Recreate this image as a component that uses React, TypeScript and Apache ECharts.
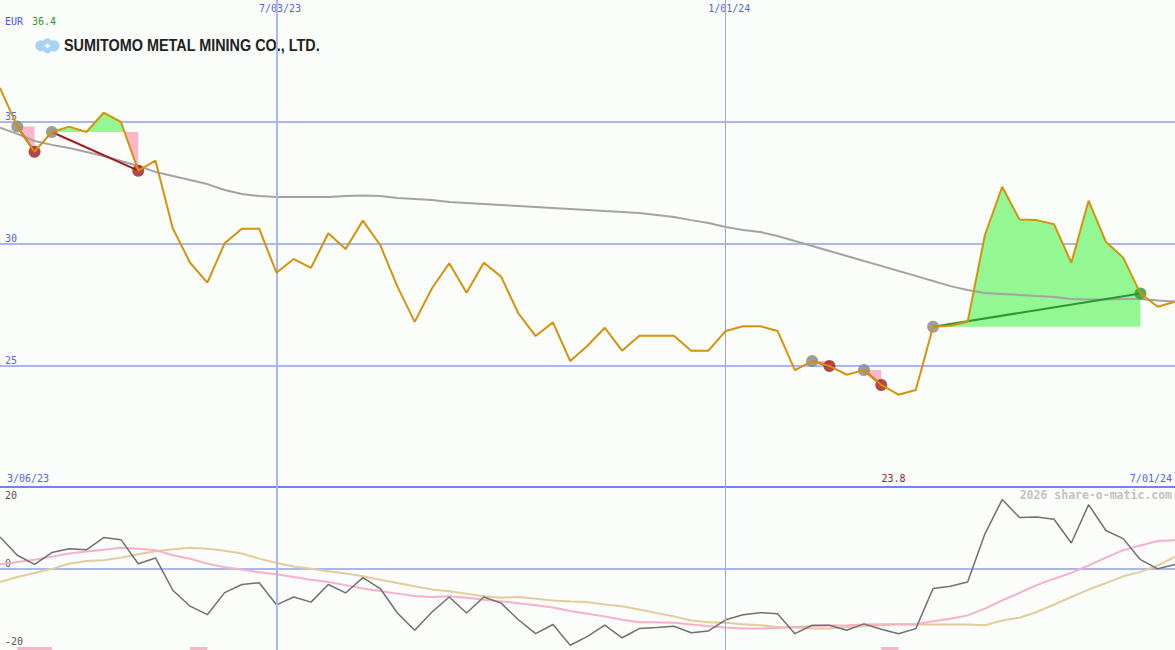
import React, { useEffect, useRef } from "react";
import * as echarts from "echarts";

// ---------- data ----------
const currency = "EUR";
const company = "SUMITOMO METAL MINING CO., LTD.";
const watermark = "2026 share-o-matic.com";

// x axis = week index (0 .. 68)
const weekMax = 68;
const topTickWeeks = [16, 42];
const topTickLabels = ["7/03/23", "1/01/24"];
const edgeTickWeeks = [0, 68];
const edgeTickLabels = ["3/06/23", "7/01/24"];

const price = [
  36.39, 34.8, 33.77, 34.58, 34.8, 34.58, 35.37, 34.99, 32.99, 33.4,
  30.62, 29.21, 28.39, 30.01, 30.61, 30.61, 28.8, 29.36, 29.0, 30.42,
  29.77, 30.94, 29.94, 28.23, 26.78, 28.16, 29.19, 27.98, 29.21, 28.64,
  27.13, 26.2, 26.76, 25.17, 25.8, 26.54, 25.6, 26.21, 26.21, 26.21,
  25.6, 25.6, 26.41, 26.6, 26.6, 26.41, 24.8, 25.17, 24.97, 24.61,
  24.8, 24.19, 23.79, 23.98, 26.58, 26.62, 26.79, 30.35, 32.33, 30.99,
  30.96, 30.79, 29.21, 31.76, 30.07, 29.42, 27.95, 27.4, 27.61,
];

const movingAvg = [
  34.76, 34.5, 34.21, 34.05, 33.92, 33.76, 33.59, 33.39, 33.18, 32.94,
  32.77, 32.61, 32.44, 32.2, 32.03, 31.95, 31.91, 31.91, 31.91, 31.91,
  31.95, 31.97, 31.95, 31.87, 31.83, 31.79, 31.7, 31.66, 31.62, 31.58,
  31.54, 31.5, 31.46, 31.42, 31.38, 31.33, 31.29, 31.25, 31.17, 31.09,
  30.96, 30.84, 30.68, 30.55, 30.47, 30.31, 30.1, 29.9, 29.69, 29.49,
  29.28, 29.08, 28.87, 28.67, 28.46, 28.25, 28.09, 27.97, 27.93, 27.89,
  27.84, 27.8, 27.72, 27.7, 27.7, 27.72, 27.72, 27.66, 27.62,
];

const osc = [
  9.3, 3.9, 1.2, 4.7, 5.8, 5.5, 9.1, 8.5, 1.4, 3.1,
  -6.4, -11.1, -13.6, -7.1, -4.7, -4.2, -10.7, -8.4, -9.9, -4.7,
  -7.2, -2.7, -5.9, -13.1, -18.2, -12.8, -8.4, -13.1, -8.4, -10.2,
  -15.1, -19.2, -16.5, -22.6, -20.0, -16.7, -20.4, -17.7, -17.4, -17.0,
  -18.9, -18.4, -15.1, -13.6, -13.0, -13.3, -19.2, -16.7, -16.7, -18.2,
  -16.3, -17.9, -19.2, -17.7, -5.9, -5.2, -4.0, 10.2, 20.3, 15.0,
  15.2, 14.5, 7.5, 18.8, 11.2, 8.8, 2.6, -0.1, 1.2,
];

const oscSignal = [
  1.2, 1.9, 2.6, 3.5, 4.4, 5.0, 5.5, 6.1, 5.8, 5.4,
  3.9, 2.9, 1.4, 0.4, -0.3, -1.1, -1.7, -2.5, -3.3, -4.0,
  -4.9, -5.9, -6.6, -7.4, -8.1, -8.4, -8.2, -8.6, -9.2, -9.7,
  -10.2, -10.8, -11.5, -12.5, -13.3, -14.1, -15.1, -15.8, -15.8, -16.0,
  -16.5, -17.0, -17.4, -17.7, -17.7, -17.5, -17.2, -17.0, -16.8, -16.7,
  -16.5, -16.4, -16.4, -16.4, -15.5, -14.8, -13.8, -11.8, -9.4, -7.2,
  -4.9, -3.0, -1.3, 0.9, 3.2, 5.4, 6.8, 8.1, 8.3,
];

const oscSlow = [
  -4.0, -2.5, -1.3, -0.1, 1.4, 2.2, 2.4, 3.2, 4.2, 5.1,
  5.7, 6.1, 5.8, 5.2, 4.4, 2.9, 1.6, 0.6, -0.1, -0.8,
  -1.5, -2.3, -3.3, -4.3, -5.2, -6.2, -6.7, -7.4, -8.2, -8.6,
  -8.4, -8.9, -9.4, -9.7, -9.9, -10.6, -11.1, -12.1, -13.1, -14.1,
  -15.3, -15.8, -16.0, -16.4, -16.7, -17.2, -17.4, -17.7, -17.7, -17.2,
  -17.0, -16.7, -16.5, -16.5, -16.5, -16.5, -16.5, -16.7, -15.3, -14.5,
  -12.8, -10.6, -8.4, -6.2, -4.3, -2.3, -1.0, 0.9, 3.4,
];

// trades: [entry week, exit week]
const trades = [
  [1, 2],
  [3, 8],
  [47, 48],
  [50, 51],
  [54, 66],
];
// sell-signal bars in the lower panel: [from week, to week]
const signalBars = [
  [1, 3],
  [11, 12],
  [51, 52],
];

const mainTicks = [25, 30, 35];
const lowerTicksAbove = [0, 20];
const lowerTicksBelow = [-20];

// ---------- styles ----------
const MONO = "'DejaVu Sans Mono', monospace";
const BLUE_TXT = "#5264ee";
const GRID_BLUE = "#a8b6f2";
const PRICE_COLOR = "#d6920a";
const GAIN_FILL = "#93f793";
const LOSS_FILL = "#fbb6c8";
const LOSS_LINE = "#a01c1c";
const GAIN_LINE = "#2a9a2a";
const LOGO = "#a9d3f5";

type Poly = { sign: number; pts: number[][] };

function buildFills(): Poly[] {
  const out: Poly[] = [];
  trades.forEach(([a, b]) => {
    const lvl = price[a];
    let cur: number[][] = [[a, lvl]];
    let sign = 0;
    for (let i = a; i < b; i++) {
      const d0 = price[i] - lvl;
      const d1 = price[i + 1] - lvl;
      cur.push([i, price[i]]);
      if (d0 !== 0 && sign === 0) sign = Math.sign(d0);
      if (d0 * d1 < 0) {
        const xc = i + d0 / (d0 - d1);
        cur.push([xc, lvl]);
        out.push({ sign: Math.sign(d0), pts: cur });
        cur = [[xc, lvl]];
        sign = Math.sign(d1);
      }
    }
    const dEnd = price[b] - lvl;
    if (sign === 0) sign = Math.sign(dEnd);
    cur.push([b, price[b]]);
    cur.push([b, lvl]);
    out.push({ sign: sign || Math.sign(dEnd), pts: cur });
  });
  return out;
}

function buildOption() {
  const fills = buildFills();
  const maxVal = Math.max(...price);
  const minVal = Math.min(...price);
  const minIdx = price.indexOf(minVal);

  const markers: any[] = [];
  trades.forEach(([a, b]) => {
    markers.push({ value: [a, price[a]], itemStyle: { color: "#858585" } });
    markers.push({
      value: [b, price[b]],
      itemStyle: { color: price[b] >= price[a] ? GAIN_LINE : LOSS_LINE },
    });
  });

  const vLines = () => ({
    silent: true,
    symbol: ["none", "none"],
    label: { show: false },
    data: topTickWeeks.map((w, i) => ({
      xAxis: w,
      lineStyle: {
        color: i === 0 ? GRID_BLUE : "#94a5f0",
        type: "solid",
        width: i === 0 ? 2 : 1,
      },
    })),
  });

  const txt = { color: BLUE_TXT, fontFamily: MONO, fontSize: 10 };

  return {
    animation: false,
    backgroundColor: "#fbfdfb",
    grid: [
      { left: 0, right: 0, top: 0, height: 487 },
      { left: 0, right: 0, top: 487, bottom: 0 },
    ],
    xAxis: [
      {
        gridIndex: 0,
        type: "value",
        min: 0,
        max: weekMax,
        position: "top",
        axisLine: { show: false },
        axisTick: { show: false },
        splitLine: { show: false },
        axisLabel: {
          ...txt,
          inside: true,
          customValues: topTickWeeks,
          formatter: (v: number) => topTickLabels[topTickWeeks.indexOf(v)] ?? "",
          margin: 3,
          padding: [0, 0, 0, 7],
        },
      },
      {
        gridIndex: 0,
        type: "value",
        min: 0,
        max: weekMax,
        position: "bottom",
        axisLine: { show: true, onZero: false, lineStyle: { color: "#7283ee", width: 2 } },
        axisTick: { show: false },
        splitLine: { show: false },
        axisLabel: {
          ...txt,
          inside: true,
          customValues: edgeTickWeeks,
          formatter: (v: number) => edgeTickLabels[edgeTickWeeks.indexOf(v)] ?? "",
          alignMinLabel: "left",
          alignMaxLabel: "right",
          padding: [0, 3, 0, 7],
          margin: 4,
        },
      },
      {
        gridIndex: 1,
        type: "value",
        min: 0,
        max: weekMax,
        axisLine: { show: false },
        axisTick: { show: false },
        axisLabel: { show: false },
        splitLine: { show: false },
      },
    ],
    yAxis: [
      {
        gridIndex: 0,
        type: "value",
        min: 20,
        max: 40,
        interval: 5,
        axisLine: { show: false },
        axisTick: { show: false },
        splitLine: {
          show: true,
          showMinLine: false,
          showMaxLine: false,
          lineStyle: { color: GRID_BLUE, width: 2 },
        },
        axisLabel: {
          ...txt,
          inside: true,
          customValues: mainTicks,
          verticalAlign: "bottom",
          margin: 5,
        },
      },
      {
        gridIndex: 1,
        type: "value",
        position: "left",
        min: -24,
        max: 24,
        interval: 24,
        axisLine: { show: false },
        axisTick: { show: false },
        splitLine: {
          show: true,
          showMinLine: false,
          showMaxLine: false,
          lineStyle: { color: GRID_BLUE, width: 2 },
        },
        axisLabel: {
          fontFamily: MONO,
          fontSize: 10,
          color: "#555",
          inside: true,
          customValues: lowerTicksAbove,
          verticalAlign: "bottom",
          margin: 5,
        },
      },
      {
        gridIndex: 1,
        type: "value",
        position: "left",
        min: -24,
        max: 24,
        axisLine: { show: false },
        axisTick: { show: false },
        splitLine: { show: false },
        axisLabel: {
          fontFamily: MONO,
          fontSize: 10,
          color: "#555",
          inside: true,
          customValues: lowerTicksBelow,
          verticalAlign: "top",
          margin: 5,
        },
      },
    ],
    graphic: [
      { type: "text", left: 5, top: 16, style: { text: currency, fill: "#4455ee", font: `10px ${MONO}` } },
      { type: "text", left: 32, top: 16, style: { text: maxVal.toFixed(1), fill: "#2a9a2a", font: `10px ${MONO}` } },
      {
        type: "group",
        children: [
          {
            type: "polygon",
            shape: { points: [[36, 45.8], [47.5, 38.8], [59, 45.8], [47.5, 52.8]] },
            style: { fill: LOGO },
          },
          { type: "circle", shape: { cx: 41, cy: 45.8, r: 5.6 }, style: { fill: LOGO } },
          { type: "circle", shape: { cx: 54, cy: 45.8, r: 5.6 }, style: { fill: LOGO } },
          { type: "circle", shape: { cx: 47.5, cy: 42.4, r: 4.2 }, style: { fill: LOGO } },
          { type: "circle", shape: { cx: 47.5, cy: 49.2, r: 4.2 }, style: { fill: LOGO } },
          {
            type: "polygon",
            shape: { points: [[47.5, 43.6], [50.3, 45.8], [47.5, 48], [44.7, 45.8]] },
            style: { fill: "#ffffff" },
          },
        ],
      },
      {
        type: "text",
        x: 64,
        y: 45,
        scaleX: 0.9,
        style: {
          text: company,
          fill: "#222222",
          font: "bold 16px 'Liberation Sans', Arial, sans-serif",
          verticalAlign: "middle",
        },
      },
      {
        type: "text",
        right: 3,
        top: 489,
        style: { text: watermark, fill: "#c2c2c2", font: `bold 11.5px ${MONO}` },
      },
    ],
    series: [
      {
        type: "custom",
        name: "fills",
        xAxisIndex: 0,
        yAxisIndex: 0,
        z: 1,
        silent: true,
        data: fills.map((p) => p.pts[0]),
        renderItem: (params: any, api: any) => {
          const poly = fills[params.dataIndex];
          return {
            type: "polygon",
            shape: { points: poly.pts.map((p) => api.coord(p)) },
            style: { fill: poly.sign > 0 ? GAIN_FILL : LOSS_FILL },
          };
        },
      },
      {
        type: "line",
        name: "MA",
        xAxisIndex: 0,
        yAxisIndex: 0,
        z: 2,
        silent: true,
        showSymbol: false,
        data: movingAvg.map((v, i) => [i, v]),
        lineStyle: { color: "#a3a3a3", width: 2 },
        markLine: vLines(),
      },
      {
        type: "custom",
        name: "trades",
        xAxisIndex: 0,
        yAxisIndex: 0,
        z: 3,
        silent: true,
        data: trades.map(([a]) => [a, price[a]]),
        renderItem: (params: any, api: any) => {
          const [a, b] = trades[params.dataIndex];
          const p0 = api.coord([a, price[a]]);
          const p1 = api.coord([b, price[b]]);
          return {
            type: "line",
            shape: { x1: p0[0], y1: p0[1], x2: p1[0], y2: p1[1] },
            style: { stroke: price[b] >= price[a] ? GAIN_LINE : LOSS_LINE, lineWidth: 2 },
          };
        },
      },
      {
        type: "scatter",
        name: "markers",
        xAxisIndex: 0,
        yAxisIndex: 0,
        z: 4,
        silent: true,
        symbolSize: 12,
        data: markers,
      },
      {
        type: "line",
        name: "price",
        xAxisIndex: 0,
        yAxisIndex: 0,
        z: 5,
        silent: true,
        showSymbol: false,
        data: price.map((v, i) => [i, v]),
        lineStyle: { color: PRICE_COLOR, width: 2 },
        markPoint: {
          silent: true,
          symbol: "circle",
          symbolSize: 1,
          itemStyle: { color: "rgba(0,0,0,0)" },
          data: [{ coord: [minIdx, 20], value: minVal }],
          label: {
            show: true,
            position: "top",
            distance: 3,
            offset: [-5, 0],
            formatter: minVal.toFixed(1),
            color: "#a01818",
            fontFamily: MONO,
            fontSize: 10,
          },
        },
      },
      {
        type: "custom",
        name: "signals",
        xAxisIndex: 2,
        yAxisIndex: 1,
        z: 1,
        silent: true,
        data: signalBars.map(([a]) => [a, -24]),
        renderItem: (params: any, api: any) => {
          const [a, b] = signalBars[params.dataIndex];
          const p0 = api.coord([a, -24]);
          const p1 = api.coord([b, -24]);
          return {
            type: "rect",
            shape: { x: p0[0], y: p0[1] - 3, width: p1[0] - p0[0], height: 3 },
            style: { fill: "#f9b4ca" },
          };
        },
      },
      {
        type: "line",
        name: "slow",
        xAxisIndex: 2,
        yAxisIndex: 1,
        z: 2,
        silent: true,
        showSymbol: false,
        data: oscSlow.map((v, i) => [i, v]),
        lineStyle: { color: "#e3cb9c", width: 2 },
        markLine: vLines(),
      },
      {
        type: "line",
        name: "signal",
        xAxisIndex: 2,
        yAxisIndex: 1,
        z: 3,
        silent: true,
        showSymbol: false,
        data: oscSignal.map((v, i) => [i, v]),
        lineStyle: { color: "#f7b0c6", width: 2 },
      },
      {
        type: "line",
        name: "osc",
        xAxisIndex: 2,
        yAxisIndex: 1,
        z: 4,
        silent: true,
        showSymbol: false,
        data: osc.map((v, i) => [i, v]),
        lineStyle: { color: "#707070", width: 1.5 },
      },
    ],
  };
}

export default function App() {
  const ref = useRef<HTMLDivElement>(null);
  useEffect(() => {
    if (!ref.current) return;
    const chart = echarts.init(ref.current, null, { renderer: "svg" });
    chart.setOption(buildOption() as any);
    return () => chart.dispose();
  }, []);
  return (
    <div
      ref={ref}
      style={{ position: "absolute", left: 0, top: 0, width: 1175, height: 650 }}
    />
  );
}
